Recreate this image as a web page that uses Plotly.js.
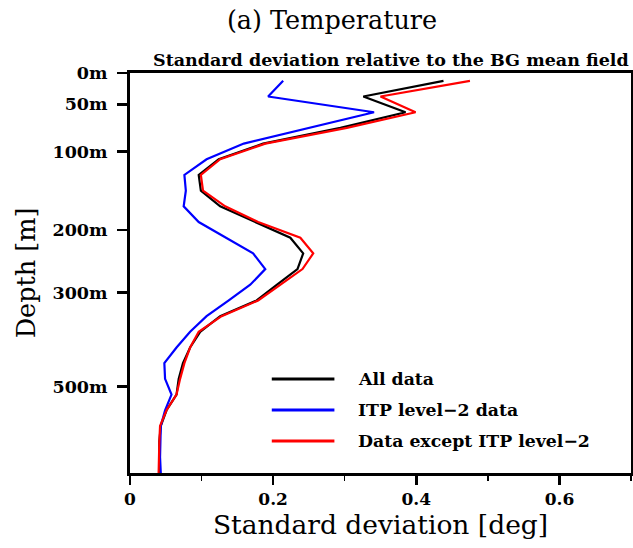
<!DOCTYPE html>
<html>
<head>
<meta charset="utf-8">
<script src="https://cdn.plot.ly/plotly-3.0.1.min.js"></script>
<style>html,body{margin:0;padding:0;background:#fff;}#chart{width:633px;height:548px;}</style>
</head>
<body>
<div id="chart"></div>
<script>
// model level index (0 = top level); depth labels at level interfaces
var levels = [0,1,2,3,4,5,6,7,8,9,10,11,12,13,14,15,16,17,18,19,20,21,22,23,24,25];
var depthTickVals = [-0.5, 1.5, 4.5, 9.5, 13.5, 19.5];
var depthTickText = ['0m','50m','100m','200m','300m','500m'];

var allData = [0.438,0.326,0.385,0.294,0.186,0.124,0.096,0.099,0.126,0.175,0.224,0.242,0.234,0.205,0.177,0.126,0.098,0.084,0.074,0.068,0.065,0.051,0.043,0.041,0.041,0.041];
var itpData = [0.214,0.193,0.341,0.252,0.159,0.107,0.076,0.078,0.075,0.096,0.135,0.172,0.189,0.168,0.138,0.107,0.084,0.065,0.048,0.049,0.058,0.049,0.043,0.042,0.042,0.043];
var exceptItp = [0.475,0.350,0.399,0.303,0.189,0.126,0.099,0.102,0.133,0.179,0.238,0.256,0.241,0.210,0.179,0.128,0.096,0.084,0.076,0.070,0.065,0.051,0.042,0.041,0.041,0.040];

var seriesNames = ['All data','ITP level\u22122 data','Data except ITP level\u22122'];
var seriesColors = ['#000000','#0000ff','#ff0000'];
var seriesValues = [allData, itpData, exceptItp];

var FONT = '"DejaVu Serif", "Liberation Serif", serif';

var traces = seriesValues.map(function(v, i){
  return {x: v, y: levels, type: 'scatter', mode: 'lines', name: seriesNames[i],
          line: {color: seriesColors[i], width: 2.2}, showlegend: false, hoverinfo: 'skip'};
});

// custom legend (long line samples like the reference)
var shapes = [], annotations = [];
var legY0 = 0.235, legStep = 0.0775;
seriesNames.forEach(function(n, i){
  var yy = legY0 - i*legStep;
  shapes.push({type:'line', xref:'paper', yref:'paper', x0:0.283, x1:0.408, y0:yy, y1:yy,
               line:{color:seriesColors[i], width:3}});
  annotations.push({xref:'paper', yref:'paper', x:0.452, y:yy, xanchor:'left', yanchor:'middle',
                    text:'<b>'+n+'</b>', showarrow:false, font:{family:FONT, size:17.3, color:'#000'}});
});
annotations.push({xref:'paper', yref:'paper', x:1, y:1.033, xanchor:'right', yanchor:'middle',
  text:'<b>Standard deviation relative to the BG mean field</b>', showarrow:false,
  font:{family:FONT, size:17.5, color:'#000'}});

var layout = {
  width: 633, height: 548,
  margin: {l:130, r:2, t:73, b:75, pad:0},
  paper_bgcolor:'#fff', plot_bgcolor:'#fff',
  title: {text:'(a) Temperature', x:0.5245, xanchor:'center', y:0.9635, yanchor:'middle',
          font:{family:FONT, size:25.5, color:'#000'}},
  xaxis: {range:[0,0.7], dtick:0.2, tick0:0, showgrid:false, zeroline:false,
          ticks:'outside', ticklen:9, tickwidth:2.5, tickcolor:'#000',
          minor:{dtick:0.1, ticks:'outside', ticklen:5, tickwidth:1.5, tickcolor:'#000'},
          showline:true, linewidth:3, linecolor:'#000', mirror:true,
          tickformat:'.1~f',
          tickfont:{family:FONT, size:17, color:'#000', weight:'bold'},
          title:{text:'Standard deviation [deg]', font:{family:FONT, size:26.5, color:'#000'}, standoff:2}},
  yaxis: {range:[25,-0.5], tickmode:'array', tickvals:depthTickVals, ticktext:depthTickText,
          showgrid:false, zeroline:false,
          ticks:'outside', ticklen:10, tickwidth:2.5, tickcolor:'#000', ticklabelstandoff:6,
          showline:true, linewidth:3, linecolor:'#000', mirror:true,
          tickfont:{family:FONT, size:17.5, color:'#000', weight:'bold'},
          title:{text:'Depth [m]', font:{family:FONT, size:25.5, color:'#000'}, standoff:10}},
  shapes: shapes, annotations: annotations, showlegend:false
};

Plotly.newPlot('chart', traces, layout, {staticPlot:true, displayModeBar:false});
</script>
</body>
</html>
